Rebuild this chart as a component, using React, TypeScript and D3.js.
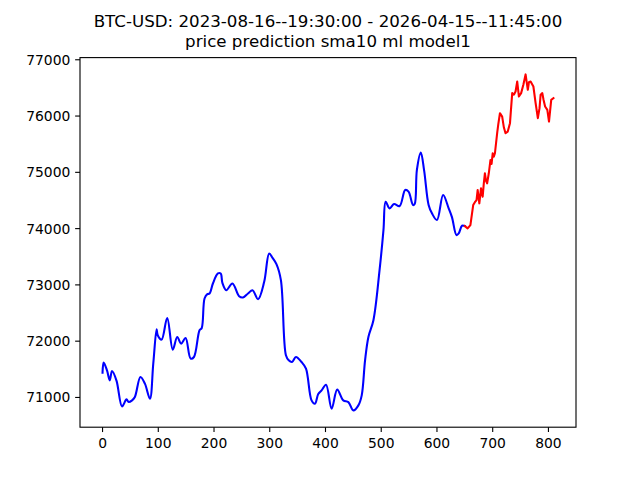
import React from "react";
import * as d3 from "d3";

const titleLines = [
  "BTC-USD: 2023-08-16--19:30:00 - 2026-04-15--11:45:00",
  "price prediction sma10 ml model1",
];

const blueIdx = [0, 2, 8, 13, 17, 25, 35, 43, 47, 53, 58, 68, 76, 85, 91, 97, 99, 106, 116, 126, 134, 141, 149, 158, 164, 174, 178, 183, 188, 192, 198, 207, 212, 215, 222, 233, 245, 252, 261, 269, 279, 290, 299, 305, 312, 320, 329, 334, 340, 347, 357, 365, 375, 381, 387, 393, 401, 411, 421, 432, 441, 450, 459, 465, 471, 477, 486, 497, 504, 508, 515, 523, 533, 543, 549, 557, 560, 564, 571, 577, 585, 591, 600, 611, 621, 627, 635, 639, 645, 650];
const blueVal = [71441, 71619, 71480, 71304, 71470, 71300, 70841, 70966, 70918, 70948, 71007, 71363, 71245, 70978, 71600, 72212, 72105, 72028, 72413, 71850, 72075, 71957, 72057, 71690, 71719, 72194, 72235, 72758, 72835, 72847, 73025, 73203, 73203, 73036, 72906, 73025, 72799, 72776, 72847, 72906, 72746, 73054, 73559, 73480, 73369, 73084, 71749, 71660, 71630, 71719, 71630, 71512, 70948, 70889, 71060, 71126, 71227, 70800, 71139, 70948, 70918, 70770, 70859, 71037, 71660, 72075, 72372, 73262, 73974, 74478, 74360, 74437, 74401, 74686, 74656, 74419, 74437, 75042, 75350, 75030, 74419, 74271, 74152, 74597, 74360, 74200, 73885, 73915, 74051, 74045];

const redIdx = [650, 655, 660, 665, 668, 671, 673, 676, 679, 682, 684, 686, 688, 690, 693, 696, 698, 700, 702, 704, 708, 710, 713, 717, 720, 723, 727, 731, 735, 738, 741, 744, 747, 751, 755, 759, 763, 765, 768, 773, 777, 781, 784, 786, 789, 791, 794, 798, 801, 805, 809];
const redVal = [74045, 74004, 74063, 74419, 74470, 74508, 74686, 74449, 74716, 74567, 74800, 74983, 74850, 74805, 74983, 75220, 75150, 75339, 75280, 75339, 75695, 75850, 76051, 75991, 75800, 75695, 75724, 75873, 76407, 76380, 76436, 76614, 76347, 76407, 76555, 76740, 76466, 76600, 76614, 76525, 76229, 75962, 76140, 76380, 76407, 76300, 76169, 76110, 75902, 76288, 76318];

const xTicks = [0, 100, 200, 300, 400, 500, 600, 700, 800];
const yTicks = [71000, 72000, 73000, 74000, 75000, 76000, 77000];

export default function App() {
  const W = 640, H = 480;
  const L = 80, R = 576, T = 57.6, B = 427.2;
  const allIdx = [...blueIdx, ...redIdx];
  const allVal = [...blueVal, ...redVal];
  const xMin = d3.min(allIdx)!, xMax = d3.max(allIdx)!;
  const yMin = d3.min(allVal)!, yMax = d3.max(allVal)!;
  const xm = (xMax - xMin) * 0.05, ym = (yMax - yMin) * 0.05;
  const x = d3.scaleLinear().domain([xMin - xm, xMax + xm]).range([L, R]);
  const y = d3.scaleLinear().domain([yMin - ym, yMax + ym]).range([B, T]);

  const blue = blueIdx.map((d, i) => [d, blueVal[i]] as [number, number]);
  const red = redIdx.map((d, i) => [d, redVal[i]] as [number, number]);
  const blueLine = d3.line<[number, number]>().x(d => x(d[0])).y(d => y(d[1])).curve(d3.curveCatmullRom.alpha(0.5));
  const redLine = d3.line<[number, number]>().x(d => x(d[0])).y(d => y(d[1]));

  const font = "'DejaVu Sans', sans-serif";
  const tickLen = 4.86;
  return (
    <svg width={W} height={H} style={{ position: "absolute", left: 0, top: 0, background: "#fff" }} fontFamily={font}>
      <rect x={0} y={0} width={W} height={H} fill="#fff" />
      <text x={(L + R) / 2} y={26.5} textAnchor="middle" fontSize={16.67} fill="#000">{titleLines[0]}</text>
      <text x={(L + R) / 2} y={46.5} textAnchor="middle" fontSize={16.67} fill="#000">{titleLines[1]}</text>
      <defs>
        <clipPath id="clip"><rect x={L} y={T} width={R - L} height={B - T} /></clipPath>
      </defs>
      <g clipPath="url(#clip)">
        <path d={blueLine(blue)!} fill="none" stroke="#0000ff" strokeWidth={2.08} strokeLinejoin="round" strokeLinecap="square" />
        <path d={redLine(red)!} fill="none" stroke="#ff0000" strokeWidth={2.08} strokeLinejoin="round" strokeLinecap="square" />
      </g>
      <rect x={L} y={T} width={R - L} height={B - T} fill="none" stroke="#000" strokeWidth={1.11} />
      {xTicks.map(t => (
        <g key={"x" + t}>
          <line x1={x(t)} x2={x(t)} y1={B} y2={B + tickLen} stroke="#000" strokeWidth={1.11} />
          <text x={x(t)} y={B + 20.5} textAnchor="middle" fontSize={13.89} fill="#000">{t}</text>
        </g>
      ))}
      {yTicks.map(t => (
        <g key={"y" + t}>
          <line x1={L} x2={L - tickLen} y1={y(t)} y2={y(t)} stroke="#000" strokeWidth={1.11} />
          <text x={L - 9.7} y={y(t)} dy="0.36em" textAnchor="end" fontSize={13.89} fill="#000">{t}</text>
        </g>
      ))}
    </svg>
  );
}
